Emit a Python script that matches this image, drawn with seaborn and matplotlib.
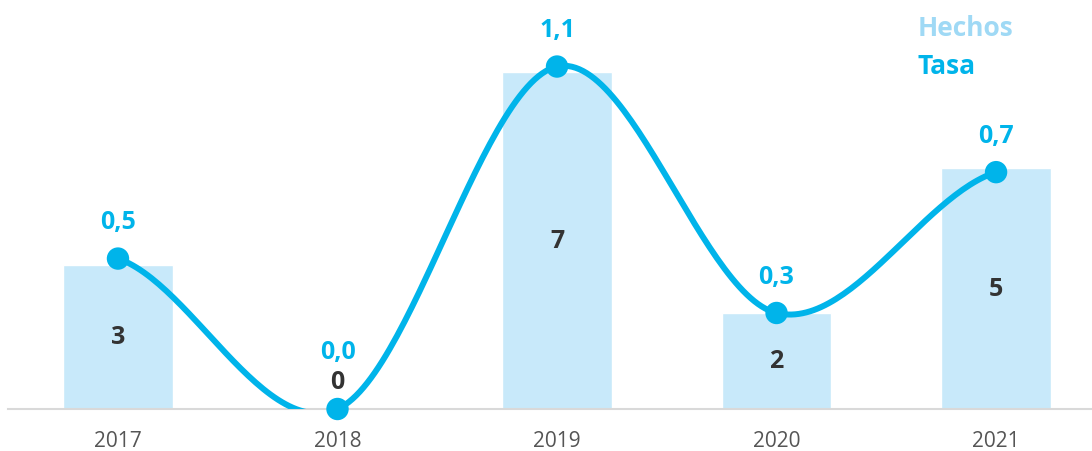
import numpy as np
import pandas as pd
import matplotlib
matplotlib.use("Agg")
import matplotlib.pyplot as plt
import seaborn as sns

years = ["2017", "2018", "2019", "2020", "2021"]
hechos = [3, 0, 7, 2, 5]
tasa = [0.47, 0.0, 1.07, 0.30, 0.74]

BAR_COLOR = "#c8e9fa"
LINE_COLOR = "#00b4ea"
LEGEND_BAR = "#9fd9f5"
DARK = "#333333"

sns.set_style("white")
plt.rcParams["font.family"] = ["Open Sans", "DejaVu Sans"]


def catmull_rom(x, y, n=60):
    # smooth curve through the points (cardinal spline)
    x = np.asarray(x, float)
    y = np.asarray(y, float)
    px = np.concatenate([[2 * x[0] - x[1]], x, [2 * x[-1] - x[-2]]])
    py = np.concatenate([[y[0]], y, [y[-1]]])
    xs, ys = [], []
    for i in range(1, len(px) - 2):
        t = np.linspace(0, 1, n)
        for p, out in ((px, xs), (py, ys)):
            p0, p1, p2, p3 = p[i - 1], p[i], p[i + 1], p[i + 2]
            out.append(0.5 * ((2 * p1) + (-p0 + p2) * t
                              + (2 * p0 - 5 * p1 + 4 * p2 - p3) * t ** 2
                              + (-p0 + 3 * p1 - 3 * p2 + p3) * t ** 3))
    return np.concatenate(xs), np.concatenate(ys)


df = pd.DataFrame({"anio": years, "hechos": hechos, "tasa": tasa})

fig = plt.figure(figsize=(10.92, 4.52), dpi=100)
ax = fig.add_axes([8 / 1092, 42 / 452, 1084 / 1092, 410 / 452])

sns.barplot(data=df, x="anio", y="hechos", color=BAR_COLOR, width=0.5,
            saturation=1, ax=ax)
ax.set_xlim(-0.501, 4.437)
ax.set_ylim(0, 8.52)
ax.set_xlabel("")
ax.set_ylabel("")
ax.set_yticks([])
for s in ["top", "right", "left"]:
    ax.spines[s].set_visible(False)
ax.spines["bottom"].set_color("#d9d9d9")
ax.spines["bottom"].set_linewidth(1.5)
ax.tick_params(axis="x", length=0, pad=15, labelsize=15, labelcolor="#555555")

for i, v in enumerate(hechos):
    yv = v / 2 if v > 0 else 0.58
    ax.text(i, yv, str(v), ha="center", va="center", fontsize=18,
            fontweight="bold", color=DARK)

ax2 = ax.twinx()
ax2.set_ylim(0, 1.281)
ax2.set_yticks([])
for s in ax2.spines.values():
    s.set_visible(False)

xs, ys = catmull_rom(range(len(tasa)), tasa)
ax2.plot(xs, ys, color=LINE_COLOR, lw=4.3, solid_capstyle="round")
sns.scatterplot(x=np.arange(len(tasa)), y=tasa, color=LINE_COLOR, s=260,
                edgecolor="none", ax=ax2, zorder=5, clip_on=False)

for i, v in enumerate(tasa):
    # label sits higher where the bar count label is at the baseline
    off = 0.115 if hechos[i] > 0 else 0.18
    ax2.text(i, v + off, f"{v:.1f}".replace(".", ","), ha="center",
             va="center", fontsize=18, fontweight="bold", color=LINE_COLOR)

fig.text(918 / 1092, 1 - 29 / 452, "Hechos", ha="left", va="center",
         fontsize=19, fontweight="bold", color=LEGEND_BAR)
fig.text(918 / 1092, 1 - 66 / 452, "Tasa", ha="left", va="center",
         fontsize=19, fontweight="bold", color=LINE_COLOR)

fig.savefig("out.png", dpi=100)
